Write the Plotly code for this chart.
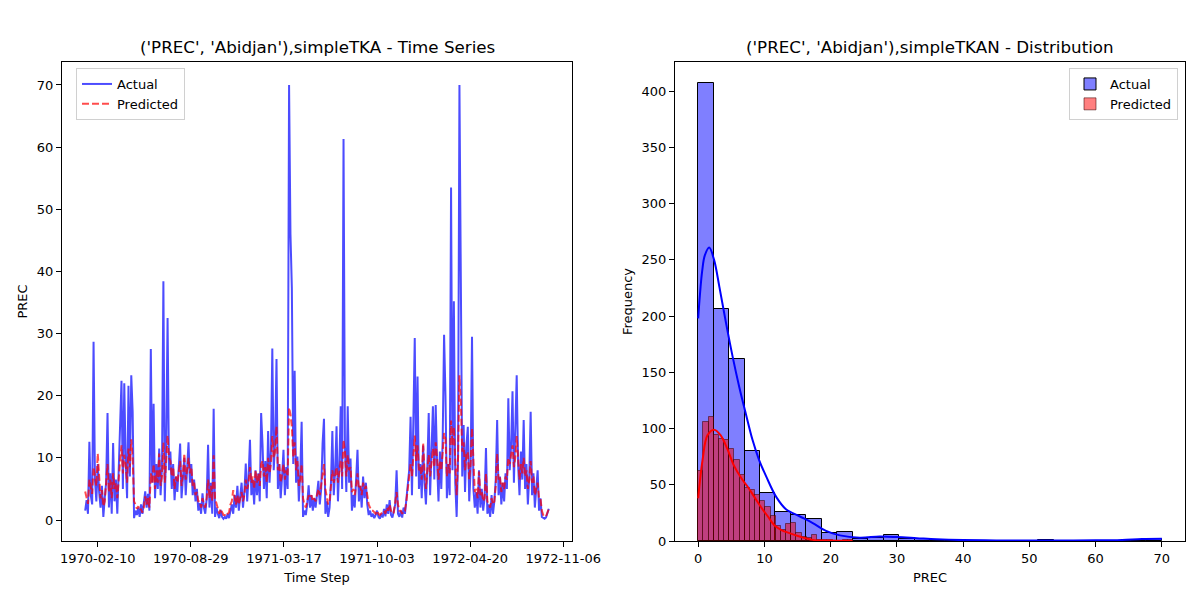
import numpy as np
import pandas as pd
import plotly.graph_objects as go

# === Time series: actual vs predicted PREC (values read every 3 days) ===
start_date = "1970-01-14"
step_days = 3

actual = [
    1.5, 3.2, 1.0, 12.6, 4.0, 2.5, 28.7, 6.5, 3.0, 9.0, 4.5, 2.0, 5.5, 0.5, 3.5, 6.0, 17.2, 2.0, 7.5, 1.0,
    12.4, 3.0, 6.5, 1.0, 8.0, 17.6, 22.4, 5.0, 22.0, 9.5, 3.5, 21.6, 7.0, 23.3, 17.4, 0.3, 1.5, 0.8, 2.0, 0.5,
    2.5, 1.0, 3.0, 4.6, 2.0, 4.2, 1.5, 27.5, 6.0, 18.7, 3.5, 9.0, 5.0, 11.5, 4.0, 8.5, 38.4, 3.0, 12.0, 32.5,
    8.0, 11.0, 5.0, 9.0, 3.2, 7.0, 4.5, 9.5, 12.3, 3.5, 7.0, 10.0, 4.0, 8.5, 12.5, 6.0, 9.0, 4.0, 6.5, 3.0,
    5.0, 1.5, 2.7, 1.0, 4.3, 2.0, 1.0, 3.5, 12.1, 2.0, 6.0, 1.0, 17.9, 0.5, 2.0, 1.0, 0.3, 1.6, 0.5, 0.2,
    0.5, 0.2, 1.0, 0.3, 1.5, 2.5, 1.0, 4.0, 2.0, 5.5, 1.5, 3.5, 6.0, 2.0, 4.5, 9.1, 3.0, 7.0, 12.9, 4.0,
    6.5, 2.5, 8.0, 4.0, 7.5, 3.0, 17.2, 12.1, 5.0, 9.5, 3.5, 14.3, 6.0, 11.0, 27.6, 8.0, 12.5, 25.9, 5.0, 9.0,
    3.5, 7.0, 11.3, 4.0, 8.5, 5.0, 70.0, 46.0, 37.3, 9.0, 24.0, 6.0, 10.2, 3.0, 7.5, 15.8, 0.5, 1.5, 0.8, 2.5,
    5.6, 2.0, 4.0, 1.5, 3.5, 2.0, 4.5, 6.3, 2.5, 5.0, 12.4, 16.3, 1.0, 3.0, 0.5, 2.0, 6.0, 14.3, 4.0, 8.0,
    15.1, 3.0, 9.0, 18.3, 5.0, 61.3, 12.0, 4.5, 18.3, 6.0, 9.9, 1.5, 4.0, 2.0, 6.5, 11.3, 3.0, 5.5, 2.0, 7.0,
    3.5, 6.0, 2.5, 0.8, 1.5, 0.5, 1.0, 0.3, 0.8, 1.5, 0.5, 0.2, 1.0, 0.4, 1.8, 0.6, 2.5, 1.0, 3.2, 0.8,
    0.4, 1.5, 2.5, 8.0, 1.0, 0.5, 1.5, 0.4, 2.0, 1.0, 3.5, 6.0, 8.0, 16.6, 4.0, 16.1, 29.3, 7.0, 23.1, 5.0,
    9.0, 3.5, 12.0, 6.0, 2.5, 8.5, 17.2, 4.0, 10.0, 18.3, 6.5, 18.5, 9.0, 3.0, 11.0, 5.0, 13.0, 29.8, 20.0, 3.5,
    9.0, 4.0, 53.5, 8.0, 35.2, 6.0, 0.5, 10.0, 70.0, 33.3, 7.0, 15.3, 4.5, 12.0, 15.0, 3.0, 8.0, 29.5, 5.0, 2.0,
    4.5, 1.0, 8.0, 2.0, 5.0, 1.5, 3.5, 11.6, 1.0, 2.5, 0.5, 4.0, 1.0, 3.0, 6.5, 16.1, 4.0, 7.0, 2.5, 6.0,
    3.0, 7.5, 5.0, 19.6, 8.0, 12.0, 20.7, 6.0, 14.0, 23.3, 9.0, 4.0, 11.0, 6.5, 16.1, 5.0, 9.0, 2.5, 7.0, 17.4,
    4.0, 7.5, 2.0, 5.0, 8.0, 1.5, 3.5, 0.5, 0.3, 0.2, 0.4, 1.0, 1.8,
]

predicted = [
    4.6, 3.8, 2.6, 6.5, 5.0, 4.2, 8.5, 7.0, 5.5, 10.7, 6.0, 3.5, 4.8, 2.2, 3.0, 5.5, 9.0, 4.5, 6.5, 3.5,
    7.5, 5.0, 6.0, 3.5, 7.0, 9.5, 12.0, 7.5, 10.5, 9.0, 6.0, 11.5, 8.5, 13.0, 10.0, 3.0, 2.5, 1.8, 2.2, 1.5,
    1.8, 1.2, 2.0, 3.8, 2.5, 3.5, 2.0, 7.5, 6.0, 9.0, 5.0, 8.0, 6.0, 10.7, 5.5, 7.0, 12.5, 6.0, 9.5, 13.6,
    10.0, 9.5, 7.0, 8.5, 5.0, 7.0, 6.0, 8.0, 9.5, 5.5, 7.5, 10.7, 6.5, 8.0, 10.0, 7.5, 8.5, 5.5, 6.0, 4.0,
    4.5, 3.0, 3.0, 2.0, 3.5, 2.5, 2.0, 3.5, 6.5, 3.5, 5.5, 3.0, 10.4, 3.5, 2.5, 1.5, 1.0, 1.8, 1.2, 0.8,
    0.8, 0.6, 1.0, 1.2, 2.5, 3.0, 4.8, 3.5, 2.5, 4.0, 2.5, 3.5, 4.5, 3.0, 4.0, 6.5, 5.0, 6.0, 8.5, 6.0,
    7.0, 5.0, 8.0, 6.0, 7.5, 5.5, 9.0, 9.5, 7.0, 8.5, 6.0, 10.0, 7.5, 9.0, 13.5, 10.0, 11.0, 15.1, 8.0, 9.0,
    6.0, 7.5, 9.0, 6.5, 8.0, 7.0, 18.1, 17.0, 15.0, 10.0, 12.5, 8.0, 9.5, 5.5, 6.5, 9.0, 3.5, 2.5, 2.0, 3.0,
    4.0, 3.5, 4.0, 3.0, 3.5, 3.0, 4.0, 5.0, 4.0, 5.5, 7.5, 9.0, 5.0, 3.5, 2.5, 3.0, 5.5, 8.0, 6.0, 7.0,
    8.5, 6.0, 7.5, 9.5, 7.0, 12.9, 11.0, 7.0, 10.5, 8.0, 8.5, 4.5, 5.0, 4.0, 5.5, 7.5, 5.0, 5.5, 4.0, 6.0,
    5.0, 5.5, 4.0, 2.5, 2.0, 1.5, 1.5, 1.2, 1.0, 1.5, 1.0, 0.8, 1.0, 1.2, 1.5, 1.0, 2.0, 1.5, 2.5, 1.5,
    1.0, 1.2, 2.5, 4.5, 2.5, 1.5, 1.5, 1.0, 1.5, 1.5, 3.0, 5.0, 6.5, 9.0, 7.0, 10.0, 13.6, 9.5, 12.0, 8.0,
    8.5, 6.5, 12.4, 8.0, 5.0, 8.0, 10.5, 7.0, 9.0, 11.5, 8.5, 12.5, 10.0, 6.5, 9.5, 8.0, 11.0, 14.0, 13.0, 7.0,
    9.0, 7.5, 16.0, 12.0, 15.0, 9.0, 4.0, 10.0, 23.3, 19.0, 11.0, 12.5, 8.0, 10.5, 11.0, 6.5, 9.0, 14.8, 8.0, 4.5,
    5.0, 3.5, 7.8, 4.0, 4.5, 3.0, 3.5, 7.5, 3.0, 2.5, 2.0, 3.5, 2.5, 3.0, 5.5, 10.7, 6.5, 7.0, 4.5, 6.0,
    5.0, 7.0, 6.5, 10.0, 9.0, 10.5, 12.0, 8.5, 10.0, 13.5, 10.0, 6.5, 9.0, 7.5, 10.0, 7.0, 8.0, 5.0, 6.5, 9.5,
    6.0, 7.0, 4.0, 5.0, 6.0, 3.5, 3.5, 1.5, 0.8, 0.5, 0.6, 1.2, 1.8,
]

date_ticks = ["1970-02-10", "1970-08-29", "1971-03-17", "1971-10-03", "1972-04-20", "1972-11-06"]

# === Distribution: histogram counts (30 bins each) and KDE curves ===
actual_max = 70.0
actual_counts = [407, 206, 162, 80, 43, 26, 23, 20, 7, 8, 2, 3, 5, 2, 2,
                 1, 0, 0, 0, 0, 0, 0, 1, 0, 0, 0, 0, 0, 0, 2]
pred_max = 23.4
pred_counts = [62, 106, 110, 94, 91, 90, 82, 72, 59, 47, 45, 41, 36, 30, 22,
               13, 10, 15, 16, 7, 4, 3, 5, 1, 1, 1, 0, 0, 1, 1]

kde_actual_x = [0, 0.25, 0.6, 1.0, 1.67, 2.4, 3.2, 4.2, 5.2, 6.2, 7.2, 8.2, 9.2, 10.3, 11.8, 13.3,
                15.3, 17.3, 19.3, 21.4, 24.4, 27.4, 30, 33, 36, 40, 45, 50, 55, 60, 64, 67, 70]
kde_actual_y = [198, 218, 240, 254, 261, 250, 226, 194, 164, 137, 113, 90, 72, 57, 39, 28,
                22, 16, 9, 5, 3, 4, 3.5, 2.5, 1.5, 0.8, 0.5, 0.5, 0.5, 0.6, 1.0, 1.8, 2.0]
kde_pred_x = [0, 0.66, 1.4, 2.4, 3.4, 4.4, 5.4, 6.5, 7.5, 8.5, 9.5, 10.5, 11.5, 12.5, 13.8,
              15.3, 17.3, 19.8, 23.3]
kde_pred_y = [38, 72, 94, 99, 94, 82, 67, 56, 48, 39, 30, 22, 14, 10, 7, 4, 1, 0.5, 0.3]

# === Build figure ===
dates = pd.date_range(start_date, periods=len(actual), freq=f"{step_days}D")
pad = (dates[-1] - dates[0]) * 0.05
x_range = [dates[0] - pad, dates[-1] + pad]

a_edges = np.linspace(0, actual_max, len(actual_counts) + 1)
p_edges = np.linspace(0, pred_max, len(pred_counts) + 1)

FONT = "DejaVu Sans"
OFF = 8  # page body margin pushes the plot 8px right/down
W, H = 1200 - OFF, 600 - OFF
ML, MR, MT, MB = 62 - OFF, 15, 62 - OFF, 59
PW, PH = W - ML - MR, H - MT - MB


def px_x(p):
    return (p - OFF - ML) / PW


def px_y(p):
    return 1 - (p - OFF - MT) / PH


fig = go.Figure()

fig.add_trace(go.Scatter(
    x=dates, y=actual, mode="lines", name="Actual",
    line=dict(color="rgba(0,0,255,0.7)", width=2), xaxis="x", yaxis="y", legend="legend",
))
fig.add_trace(go.Scatter(
    x=dates, y=predicted, mode="lines", name="Predicted",
    line=dict(color="rgba(255,0,0,0.7)", width=2, dash="7px,3px"), xaxis="x", yaxis="y", legend="legend",
))

fig.add_trace(go.Bar(
    x=(a_edges[:-1] + a_edges[1:]) / 2, y=actual_counts, width=np.diff(a_edges),
    name="Actual", marker=dict(color="rgba(0,0,255,0.5)", line=dict(color="black", width=1)),
    xaxis="x2", yaxis="y2", legend="legend2",
))
fig.add_trace(go.Bar(
    x=(p_edges[:-1] + p_edges[1:]) / 2, y=pred_counts, width=np.diff(p_edges),
    name="Predicted", marker=dict(color="rgba(255,0,0,0.5)", line=dict(color="rgba(60,0,0,0.55)", width=1)),
    xaxis="x2", yaxis="y2", legend="legend2",
))
fig.add_trace(go.Scatter(
    x=kde_actual_x, y=kde_actual_y, mode="lines", line=dict(color="blue", width=2, shape="spline"),
    showlegend=False, xaxis="x2", yaxis="y2", hoverinfo="skip",
))
fig.add_trace(go.Scatter(
    x=kde_pred_x, y=kde_pred_y, mode="lines", line=dict(color="red", width=2, shape="spline"),
    showlegend=False, xaxis="x2", yaxis="y2", hoverinfo="skip",
))

axis_style = dict(
    showline=True, mirror=True, linecolor="black", linewidth=1, automargin=False,
    ticks="outside", ticklen=5, tickcolor="black", showgrid=False, zeroline=False,
    tickfont=dict(family=FONT, size=13, color="black"),
)

fig.update_layout(
    width=W, height=H, margin=dict(l=ML, r=MR, t=MT, b=MB),
    paper_bgcolor="white", plot_bgcolor="white", barmode="overlay", bargap=0,
    font=dict(family=FONT, size=13, color="black"),
    xaxis=dict(domain=[0, px_x(572)], range=x_range, tickvals=date_ticks, ticktext=date_ticks,
               title=dict(text="Time Step", standoff=8, font=dict(size=13)), **axis_style),
    yaxis=dict(domain=[0, 1], range=[-3.38, 73.7], tickvals=list(range(0, 71, 10)),
               title=dict(text="PREC", standoff=6, font=dict(size=13)), **axis_style),
    xaxis2=dict(domain=[px_x(675), 1], range=[-3.5, 73.5], tickvals=list(range(0, 71, 10)),
                anchor="y2", title=dict(text="PREC", standoff=8, font=dict(size=13)), **axis_style),
    yaxis2=dict(domain=[0, 1], range=[0, 426], tickvals=list(range(0, 401, 50)), anchor="x2",
                title=dict(text="Frequency", standoff=6, font=dict(size=13)), **axis_style),
    legend=dict(x=px_x(76), y=px_y(68), xanchor="left", yanchor="top",
                bgcolor="rgba(255,255,255,0.8)", bordercolor="#d0d0d0", borderwidth=1,
                font=dict(size=13), tracegroupgap=0),
    legend2=dict(x=px_x(1178), y=px_y(68), xanchor="right", yanchor="top",
                 bgcolor="rgba(255,255,255,0.8)", bordercolor="#d0d0d0", borderwidth=1,
                 font=dict(size=13), tracegroupgap=0),
    annotations=[
        dict(text="('PREC', 'Abidjan'),simpleTKA - Time Series", x=px_x(317), y=px_y(47),
             xref="paper", yref="paper", xanchor="center", yanchor="middle",
             showarrow=False, font=dict(size=16.7)),
        dict(text="('PREC', 'Abidjan'),simpleTKAN - Distribution", x=px_x(930), y=px_y(47),
             xref="paper", yref="paper", xanchor="center", yanchor="middle",
             showarrow=False, font=dict(size=16.7)),
    ],
)

fig.write_html("out.html")
